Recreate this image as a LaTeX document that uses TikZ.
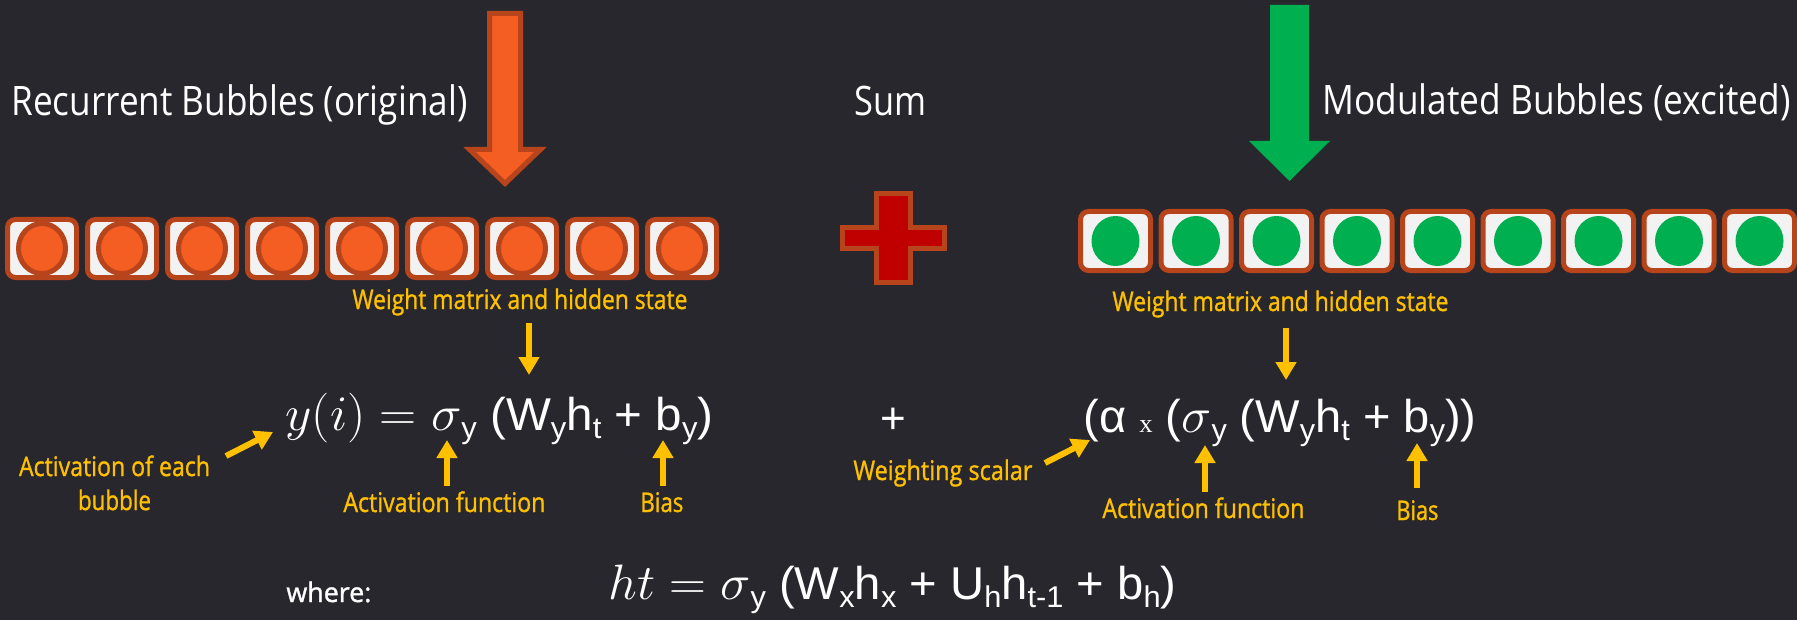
\documentclass[tikz,border=0pt]{standalone}
\usepackage{fontspec}
\usepackage{graphicx}
\usetikzlibrary{arrows.meta}
\setmainfont{Open Sans}
\newfontfamily\yf[FakeBold=1.2]{Open Sans}
\newfontfamily\eqf{Liberation Sans}
\newfontfamily\serf{Liberation Serif}
\definecolor{bg}{RGB}{40,39,46}
\definecolor{rorange}{RGB}{245,94,35}
\definecolor{rbrown}{RGB}{183,68,26}
\definecolor{rgreen}{RGB}{0,176,80}
\definecolor{rred}{RGB}{192,0,0}
\definecolor{rbox}{RGB}{242,242,242}
\definecolor{ryellow}{RGB}{255,192,0}
\newcommand\fw[2]{\resizebox{#1\dimexpr 0.5pt\relax}{\height}{#2}}
\newcommand\sbs[1]{\raisebox{-4pt}{\fontsize{15}{15}\selectfont #1}}
\begin{document}
\begin{tikzpicture}[x=0.5pt,y=-0.5pt,
  obox/.style={draw=rbrown, line width=2.5pt, fill=rbox, rounded corners=4pt,
    minimum width=34.5pt, minimum height=29pt, inner sep=0pt},
  gbox/.style={draw=rbrown, line width=2.5pt, fill=rbox, rounded corners=4pt,
    minimum width=35pt, minimum height=29.5pt, inner sep=0pt},
  ocirc/.style={draw=rbrown, line width=2.5pt, fill=rorange},
  gcirc/.style={fill=rgreen},
  txt/.style={inner sep=0pt, anchor=base west},
  ttl/.style={txt, text=white, font=\fontsize{20.3}{24}\selectfont},
  ylab/.style={txt, text=ryellow, font=\yf\fontsize{13.5}{17}\selectfont},
  eqn/.style={txt, text=white, font=\eqf\fontsize{23}{26}\selectfont},
  yarr/.style={draw=ryellow, line width=3pt, -{Triangle[width=10pt,length=9pt]}},
]
\useasboundingbox (0,0) rectangle (1797,620);
\fill[bg] (0,0) rectangle (1797,620);

% titles
\node[ttl] (tl) at (11,116) {\fw{456}{Recurrent Bubbles (original)}};
\node[ttl] (sum) at (854,116) {\fw{72}{Sum}};
\node[ttl] (tr) at (1322,115) {\fw{468}{Modulated Bubbles (excited)}};

% big arrows
\draw[draw=rbrown, line width=2.5pt, fill=rorange, line join=miter]
  (489.5,13.5) -- (520.5,13.5) -- (520.5,149.5) -- (540.5,149.5) -- (505,183.5)
  -- (469.5,149.5) -- (489.5,149.5) -- cycle;
\fill[rgreen] (1270,5) -- (1309,5) -- (1309,141) -- (1330,141) -- (1289.5,181)
  -- (1249,141) -- (1270,141) -- cycle;

% bubbles
\foreach \i in {0,...,8}{
  \node[obox] (o\i) at ({42+80*\i},248.5) {};
  \draw[ocirc] (o\i.center) ellipse [x radius=23.5, y radius=25];
  \node[gbox] (g\i) at ({1115.5+80.5*\i},241) {};
  \fill[gcirc] (g\i.center) ellipse [x radius=24, y radius=25];
}

% plus sign
\draw[draw=rbrown, line width=2.5pt, fill=rred]
  (876.5,193.5) -- (910.5,193.5) -- (910.5,227.5) -- (944.5,227.5) -- (944.5,248.5)
  -- (910.5,248.5) -- (910.5,282.5) -- (876.5,282.5) -- (876.5,248.5) -- (842.5,248.5)
  -- (842.5,227.5) -- (876.5,227.5) -- cycle;

% equations
\node[eqn] (eqL) at (285,430) {\fw{428}{$y(i) = \sigma$\sbs{y} (W\sbs{y}h\sbs{t} + b\sbs{y})}};
\node[eqn, anchor=center, font=\eqf\fontsize{22}{24}\selectfont] (pl) at (893,421) {+};
\node[eqn] (eqR) at (1083,432) {\fw{393}{(α {\serf\fontsize{13}{13}\selectfont x} ($\sigma$\sbs{y} (W\sbs{y}h\sbs{t} + b\sbs{y}))}};
\node[eqn] (eqB) at (608,599) {\fw{568}{$ht = \sigma$\sbs{y} (W\sbs{x}h\sbs{x} + U\sbs{h}h\sbs{t-1} + b\sbs{h})}};
\node[txt, text=white, font=\yf\fontsize{13.5}{14}\selectfont] (where) at (286,602) {\fw{85}{where:}};

% yellow labels
\node[ylab] (wmL) at (352,309) {\fw{335}{Weight matrix and hidden state}};
\node[ylab] (wmR) at (1112,311) {\fw{336}{Weight matrix and hidden state}};
\node[ylab, anchor=north, align=center] (actE) at (114.5,455) {\fw{191}{Activation of each}\\\fw{73}{bubble}};
\node[ylab] (afL) at (343,512) {\fw{202}{Activation function}};
\node[ylab] (biL) at (640,512) {\fw{43}{Bias}};
\node[ylab] (ws) at (853,480) {\fw{179}{Weighting scalar}};
\node[ylab] (afR) at (1102,518) {\fw{202}{Activation function}};
\node[ylab] (biR) at (1396,520) {\fw{42}{Bias}};

% arrow end points
\coordinate (a1s) at (529,323);  \coordinate (a1e) at (529,375);
\coordinate (a2s) at (447,486);  \coordinate (a2e) at (447,440);
\coordinate (a3s) at (663,486);  \coordinate (a3e) at (663,440);
\coordinate (a4s) at (226,456);  \coordinate (a4e) at (273,432);
\coordinate (a5s) at (1286,328); \coordinate (a5e) at (1286,380);
\coordinate (a6s) at (1205,492); \coordinate (a6e) at (1205,445);
\coordinate (a7s) at (1417,488); \coordinate (a7e) at (1417,443);
\coordinate (a8s) at (1045,463); \coordinate (a8e) at (1090,440);
\foreach \k in {1,...,8}{ \draw[yarr] (a\k s) -- (a\k e); }
\end{tikzpicture}
\end{document}
